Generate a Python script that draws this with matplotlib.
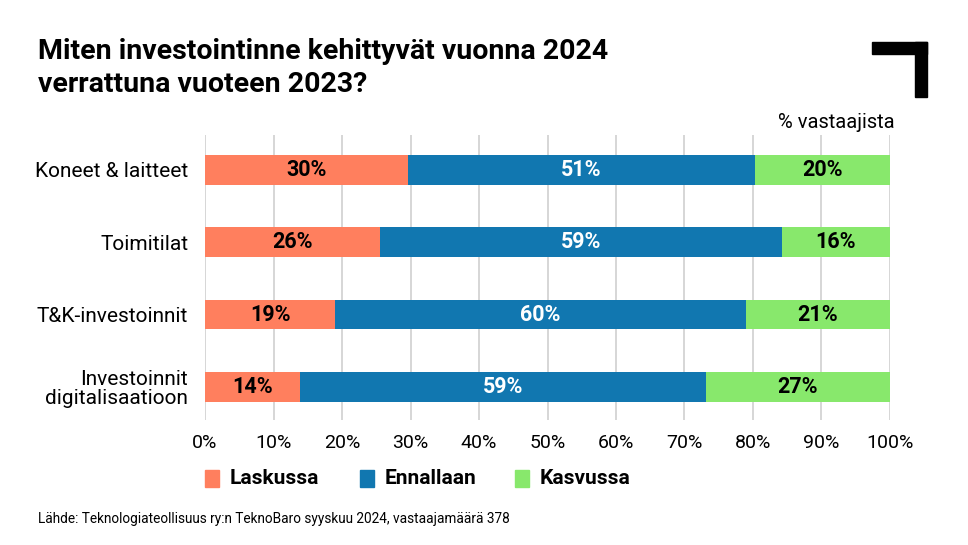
import matplotlib.pyplot as plt
from matplotlib import font_manager
from matplotlib.patches import Rectangle

names = {f.name for f in font_manager.fontManager.ttflist}
font = 'Liberation Sans Narrow' if 'Liberation Sans Narrow' in names else 'Roboto'
plt.rcParams['font.family'] = [font, 'DejaVu Sans']

# Data
categories = ['Koneet & laitteet', 'Toimitilat', 'T&K-investoinnit',
              'Investoinnit\ndigitalisaatioon']
laskussa = [29.6, 25.5, 19.0, 13.9]
ennallaan = [50.7, 58.7, 60.0, 59.2]
kasvussa = [19.7, 15.8, 21.0, 26.9]
series = ['Laskussa', 'Ennallaan', 'Kasvussa']
colors = ['#FF7F5E', '#1177B0', '#88E86C']
label_colors = ['black', 'white', 'black']

fig = plt.figure(figsize=(9.68, 5.45), dpi=100)
ax = fig.add_axes([0.2118, 0.2294, 0.7076, 0.5229])

y = list(range(len(categories)))
left = [0] * len(categories)
for vals, col, lc in zip([laskussa, ennallaan, kasvussa], colors, label_colors):
    ax.barh(y, vals, left=left, height=0.41, color=col, zorder=3)
    for i, v in enumerate(vals):
        ax.text(left[i] + v / 2, y[i], f'{round(v)}%', ha='center', va='center',
                color=lc, fontsize=15.5, fontweight='bold', zorder=4)
    left = [a + b for a, b in zip(left, vals)]

ax.set_xlim(0, 100)
ax.set_ylim(3.455, -0.48)
ax.set_xticks(range(0, 101, 10))
ax.set_xticklabels([f'{t}%' for t in range(0, 101, 10)], fontsize=14)
ax.set_yticks(y)
ax.set_yticklabels(categories, fontsize=15, linespacing=1.0)
ax.tick_params(length=0, pad=10)
ax.tick_params(axis='y', pad=12)
ax.grid(axis='x', color='#D0D0D0', linewidth=1.2, zorder=0)
for s in ax.spines.values():
    s.set_visible(False)

# Title, subtitle, source
fig.text(38 / 968, 1 - 68 / 545, 'Miten investointinne kehittyvät vuonna 2024\nverrattuna vuoteen 2023?',
         fontsize=20.5, fontweight='bold', va='center', ha='left', linespacing=1.25)
fig.text(895 / 968, 1 - 122 / 545, '% vastaajista', fontsize=14.5, ha='right', va='center')
fig.text(38 / 968, 1 - 519 / 545,
         'Lähde: Teknologiateollisuus ry:n TeknoBaro syyskuu 2024, vastaajamäärä 378',
         fontsize=9.8, ha='left', va='center')

# Legend
lx = [205, 360, 515]
for x0, name, col in zip(lx, series, colors):
    fig.patches.append(Rectangle((x0 / 968, 1 - 487 / 545), 14 / 968, 17 / 545,
                                 transform=fig.transFigure, color=col))
    fig.text((x0 + 25) / 968, 1 - 478 / 545, name, fontsize=15, fontweight='bold',
             ha='left', va='center')

# Logo corner
fig.patches.append(Rectangle((872 / 968, 1 - 54 / 545), 55 / 968, 12 / 545,
                             transform=fig.transFigure, color='black'))
fig.patches.append(Rectangle((915 / 968, 1 - 97 / 545), 12 / 968, 55 / 545,
                             transform=fig.transFigure, color='black'))

fig.savefig('out.png', dpi=100)
